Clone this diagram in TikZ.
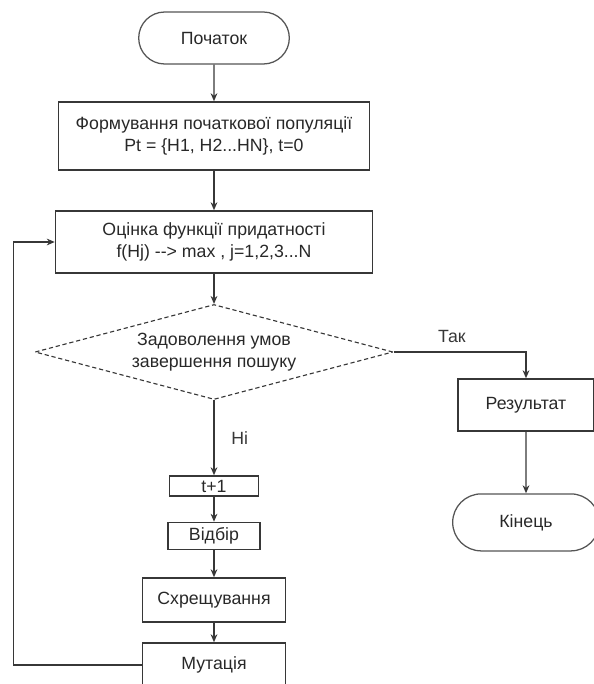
\documentclass[tikz,border=0pt]{standalone}
\usepackage{fontspec}
\setmainfont{Liberation Sans}
\usepackage{tikz}
\usetikzlibrary{arrows.meta,positioning,shapes.misc,shapes.geometric}
\definecolor{fline}{RGB}{55,55,55}
\definecolor{ftext}{RGB}{40,40,40}

\begin{document}
\begin{tikzpicture}[font=\fontsize{12.6}{15.8}\selectfont,text=ftext,
  term/.style={draw=fline!85,line width=0.9pt,rounded rectangle,minimum width=4cm,minimum height=1.3cm,align=center},
  proc/.style={draw=fline,line width=1.1pt,rectangle,inner sep=1pt,align=center},
  cond/.style={draw=fline,line width=0.8pt,densely dashed,diamond,shape aspect=3.77,inner sep=0pt,minimum width=8.95cm,minimum height=2.375cm,align=center},
  arr/.style={-{Stealth[length=2mm,width=1.7mm]},line width=0.9pt,fline}]
\useasboundingbox (0,0) rectangle (14.85,-17.1);
\node[term] (start) at (5.35,-0.95) {Початок};
\node[proc,minimum width=7.775cm,minimum height=1.7cm] (init) at (5.35,-3.4) {Формування початкової популяції\\Pt = \{H1, H2...HN\}, t=0};
\node[proc,minimum width=7.925cm,minimum height=1.55cm] (eval) at (5.35,-6.05) {Оцінка функції придатності\\f(Hj) -{}-{}> max , j=1,2,3...N};
\node[cond] (check) at (5.35,-8.8) {Задоволення умов\\завершення пошуку};
\node[proc,minimum width=3.4cm,minimum height=1.3cm] (res) at (13.15,-10.125) {Результат};
\node[term,minimum width=3.9cm,minimum height=1.425cm] (stop) at (13.15,-13.06) {Кінець};
\node[proc,minimum width=2.225cm,minimum height=0.5cm,inner sep=0pt] (inc) at (5.35,-12.15) {t+1};
\node[proc,minimum width=2.3cm,minimum height=0.675cm] (sel) at (5.35,-13.4) {Відбір};
\node[proc,minimum width=3.575cm,minimum height=1.1cm] (cross) at (5.35,-15.0) {Схрещування};
\node[proc,minimum width=3.575cm,minimum height=1.1cm] (mut) at (5.35,-16.625) {Мутація};
\draw[arr] (start)--(init); \draw[arr] (init)--(eval); \draw[arr] (eval)--(check);
\draw[arr] (check.east) -| node[pos=0.22,above=0.1cm] {Так} (res.north);
\draw[arr] (res)--(stop);
\draw[arr] (check.south) -- node[right=0.3cm] {Ні} (inc.north);
\draw[arr] (inc)--(sel); \draw[arr] (sel)--(cross); \draw[arr] (cross)--(mut);
\draw[arr] (mut.west) -- ++(-3.2125,0) |- (eval.west);
\end{tikzpicture}
\end{document}
